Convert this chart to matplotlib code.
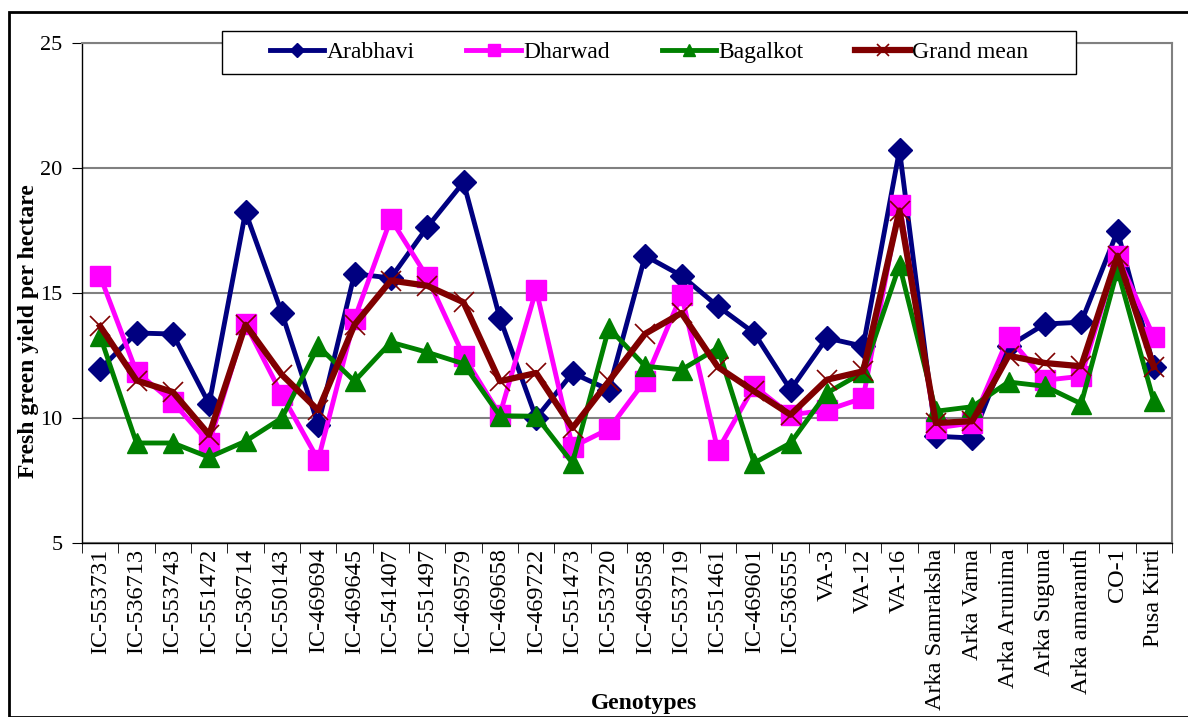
import matplotlib
matplotlib.use("Agg")
import matplotlib.pyplot as plt
from matplotlib.patches import Rectangle
from matplotlib.ticker import FixedLocator
import numpy as np

genotypes = ["IC-553731", "IC-536713", "IC-553743", "IC-551472", "IC-536714",
             "IC-550143", "IC-469694", "IC-469645", "IC-541407", "IC-551497",
             "IC-469579", "IC-469658", "IC-469722", "IC-551473", "IC-553720",
             "IC-469558", "IC-553719", "IC-551461", "IC-469601", "IC-536555",
             "VA-3", "VA-12", "VA-16", "Arka Samraksha", "Arka Varna",
             "Arka Arunima", "Arka Suguna", "Arka amaranth", "CO-1", "Pusa Kirti"]

arabhavi = [11.96, 13.40, 13.36, 10.56, 18.24, 14.20, 9.73, 15.77, 15.60, 17.63,
            19.43, 14.00, 10.00, 11.80, 11.13, 16.49, 15.69, 14.47, 13.40, 11.13,
            13.20, 12.87, 20.72, 9.27, 9.20, 12.87, 13.76, 13.83, 17.47, 12.04]
dharwad = [15.67, 11.84, 10.64, 9.00, 13.77, 10.93, 8.33, 13.96, 17.96, 15.64,
           12.49, 10.13, 15.13, 8.84, 9.56, 11.50, 14.93, 8.71, 11.27, 10.13,
           10.31, 10.80, 18.53, 9.60, 9.80, 13.24, 11.51, 11.67, 16.47, 13.24]
bagalkot = [13.27, 9.00, 9.00, 8.43, 9.07, 10.00, 12.87, 11.47, 13.03, 12.63,
            12.17, 10.09, 10.07, 8.20, 13.60, 12.07, 11.93, 12.80, 8.20, 9.00,
            11.00, 11.83, 16.11, 10.27, 10.45, 11.44, 11.27, 10.57, 15.93, 10.67]
grand_mean = [13.67, 11.50, 11.04, 9.33, 13.73, 11.73, 10.31, 13.73, 15.50, 15.29,
              14.63, 11.47, 11.80, 9.60, 11.47, 13.37, 14.20, 12.04, 11.07, 10.13,
              11.53, 11.87, 18.30, 9.80, 9.87, 12.49, 12.20, 12.07, 16.49, 12.04]

series_names = ["Arabhavi", "Dharwad", "Bagalkot", "Grand mean"]
y_ticks = [5, 10, 15, 20, 25]

plt.rcParams['font.family'] = ['Liberation Serif', 'DejaVu Serif']

fig = plt.figure(figsize=(11.88, 7.17), dpi=100)
ax = fig.add_axes([82/1188, 1-543/717, (1172-82)/1188, 500/717])

x = np.arange(len(genotypes))
h1, = ax.plot(x, arabhavi, color="#000080", lw=3.5, marker="D", ms=12, zorder=3)
h2, = ax.plot(x, dharwad, color="#FF00FF", lw=3.5, marker="s", ms=14, zorder=4)
h3, = ax.plot(x, bagalkot, color="#008000", lw=3.5, marker="^", ms=15, zorder=5)
h4, = ax.plot(x, grand_mean, color="#800000", lw=4.5, marker="x", ms=14, mew=1.2, zorder=6)

ax.set_xlim(-0.5, len(genotypes) - 0.5)
ax.set_ylim(5, 25)
ax.set_yticks(y_ticks)
ax.yaxis.grid(True, color="#808080", lw=1.5)
ax.set_axisbelow(True)
ax.tick_params(axis='y', labelsize=16, length=7, direction='out', pad=7)

ax.set_xticks(x)
ax.set_xticklabels(genotypes, rotation=90, fontsize=17.5)
ax.tick_params(axis='x', which='major', length=0, pad=4)
ax.xaxis.set_minor_locator(FixedLocator(np.arange(-0.5, len(genotypes), 1)))
ax.tick_params(axis='x', which='minor', length=7, direction='out')

for s in ['left', 'bottom']:
    ax.spines[s].set_color('black')
    ax.spines[s].set_linewidth(1)
for s in ['top', 'right']:
    ax.spines[s].set_color('#808080')
    ax.spines[s].set_linewidth(1.5)

fig.text(29/1188, 1-331/717, "Fresh green yield per hectare", fontsize=17,
         fontweight='bold', rotation=90, ha='center', va='center')
fig.text(644/1188, 1-704/717, "Genotypes", fontsize=17, fontweight='bold',
         ha='center', va='center')

leg = fig.legend([h1, h2, h3, h4], series_names, loc='center', ncol=4,
                 bbox_to_anchor=(649/1188, 1-52.5/717), fontsize=17,
                 frameon=False, handlelength=2.3, columnspacing=2.2,
                 handletextpad=0.1, markerscale=0.6)

fig.patches.append(Rectangle((222/1188, 1-74/717), (1076-222)/1188, 43/717,
                             transform=fig.transFigure, facecolor='white',
                             edgecolor='black', lw=1, zorder=5))
leg.set_zorder(6)

fig.patches.append(Rectangle((9/1188, 0), 1.0, 1-12/717, transform=fig.transFigure,
                             fill=False, edgecolor='black', lw=2))

fig.savefig("out.png", dpi=100)
